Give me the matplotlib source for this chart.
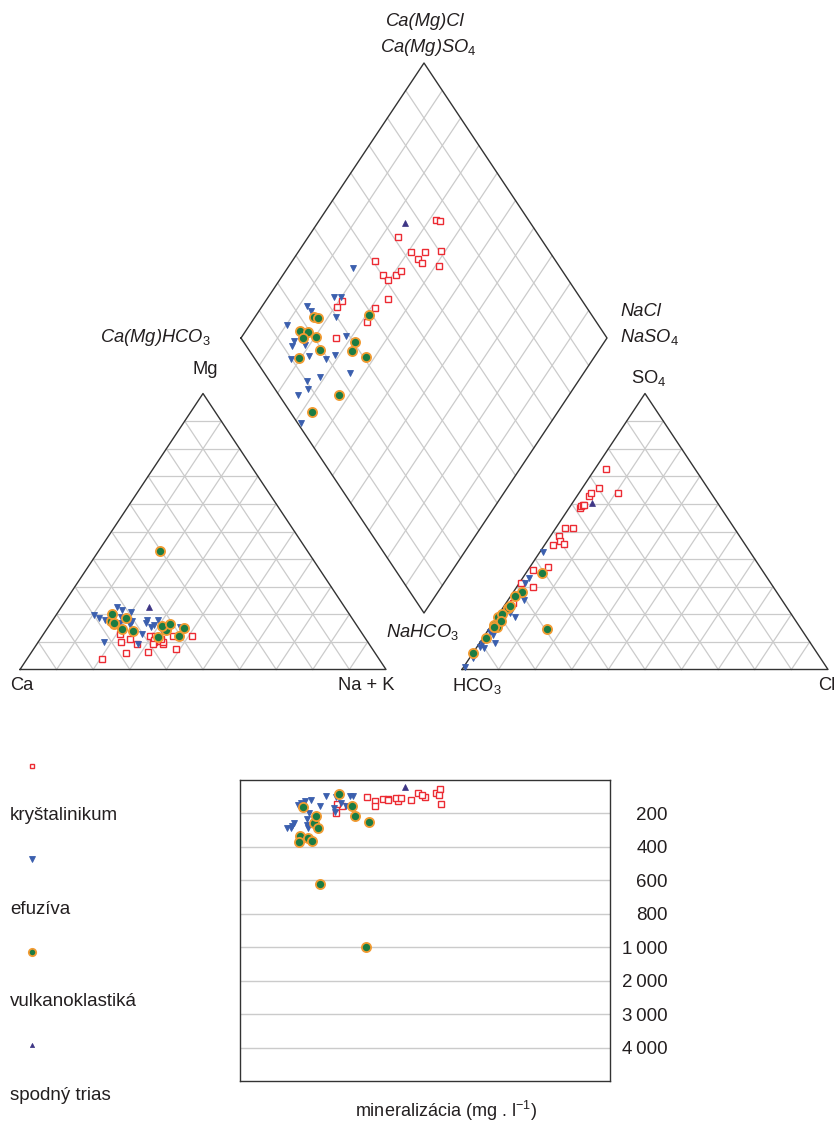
"""Piper diagram with mineralization panel."""
import matplotlib.pyplot as plt
import numpy as np

plt.rcParams['font.family'] = ['Liberation Sans', 'DejaVu Sans']
plt.rcParams['mathtext.fontset'] = 'custom'
plt.rcParams['mathtext.rm'] = 'Liberation Sans'
plt.rcParams['mathtext.it'] = 'Liberation Sans:italic'

# percent of meq: Na+K, Mg (rest Ca); SO4, Cl (rest HCO3); mineralization mg/l
kryst_na = [31.8, 33.0, 24.6, 30.9, 34.6, 38.9, 34.1, 35.7, 40.9, 22.5,
            27.3, 29.6, 30.8, 31.5, 33.0, 31.1, 31.6, 21.0, 20.5, 25.9]
kryst_mg = [6.3, 10.4, 11.0, 11.0, 9.2, 7.5, 10.0, 12.3, 12.3, 10.0,
            9.1, 12.0, 12.0, 10.0, 11.0, 10.8, 9.3, 12.9, 3.9, 5.9]
kryst_so4 = [64.0, 72.5, 58.4, 59.2, 62.8, 65.8, 59.7, 59.5, 63.8, 48.3,
             46.7, 45.4, 51.2, 51.3, 45.1, 37.2, 35.9, 30.0, 31.3, 24.2]
kryst_cl = [10.6, 3.0, 3.0, 3.0, 3.2, 4.6, 3.1, 3.6, 3.4, 2.3,
            3.5, 5.2, 2.5, 4.6, 2.2, 4.8, 1.5, 4.3, 0.5, 1.8]
kryst_tds = [80, 56, 124, 120, 104, 146, 80, 90, 90, 124,
             116, 116, 106, 110, 120, 154, 104, 156, 146, 200]

efuz_na = [18.0, 18.1, 19.8, 12.2, 14.2, 10.2, 22.1, 15.1, 15.5, 18.7, 21.8,
           17.3, 26.9, 28.7, 28.2, 36.2, 28.6, 25.8, 27.6, 26.0, 31.9]
efuz_mg = [9.9, 19.0, 20.8, 18.7, 18.0, 19.8, 16.0, 22.6, 20.0, 17.0, 17.5,
           21.4, 12.9, 16.0, 15.3, 15.3, 18.1, 17.8, 9.3, 17.0, 14.0]
efuz_so4 = [42.4, 31.3, 33.0, 21.7, 19.1, 12.6, 25.3, 9.6, 11.2, 15.7, 14.3,
            7.8, 17.4, 21.1, 27.0, 20.3, 13.5, 9.1, 8.3, 4.3, 0.8]
efuz_cl = [1.0, 1.6, 1.7, 2.0, 4.8, 2.2, 4.4, 4.3, 1.3, 0.6, 1.0,
           2.0, 2.0, 1.5, 2.0, 3.0, 1.0, 1.0, 0.9, 0.9, 0.3]
efuz_tds = [94, 166, 136, 270, 120, 290, 100, 260, 275, 124, 200,
            288, 94, 190, 156, 94, 156, 235, 290, 150, 136]

vulk_na = [16.1, 17.5, 14.9, 17.1, 16.9, 20.4, 23.7, 19.5, 31.8, 32.6,
           37.5, 30.9, 37.3, 32.7]
vulk_mg = [17.5, 16.6, 20.2, 17.0, 42.8, 14.7, 14.1, 18.7, 11.7, 14.4,
           12.1, 15.7, 15.1, 16.6]
vulk_so4 = [22.2, 23.1, 15.3, 19.1, 16.1, 20.0, 17.5, 11.4, 28.1, 26.6,
            14.6, 34.8, 15.5, 5.9]
vulk_cl = [1.6, 1.6, 2.0, 0.3, 0.8, 0.8, 2.0, 0.8, 2.3, 1.2,
           16.0, 4.5, 1.0, 0.0]
vulk_tds = [259, 286, 335, 349, 164, 216, 623, 369, 214, 156,
            1000, 253, 86, 365]

trias_na = [24.0]
trias_mg = [22.6]
trias_so4 = [60.4]
trias_cl = [5.3]
trias_tds = [44]

tds_levels = [0, 200, 400, 600, 800, 1000, 2000, 3000, 4000, 5000]
tds_ticks = [200, 400, 600, 800, 1000, 2000, 3000, 4000]
tds_labels = ["200", "400", "600", "800",
              "1\u2009000", "2\u2009000", "3\u2009000", "4\u2009000"]

groups = [
    ("kryštalinikum", kryst_na, kryst_mg, kryst_so4, kryst_cl, kryst_tds,
     dict(marker='s', ms=4.2, mfc='white', mec='#ec2b33', mew=1.0)),
    ("efuzíva", efuz_na, efuz_mg, efuz_so4, efuz_cl, efuz_tds,
     dict(marker='v', ms=4.8, mfc='#3b5fae', mec='#3b5fae', mew=0.6)),
    ("vulkanoklastiká", vulk_na, vulk_mg, vulk_so4, vulk_cl, vulk_tds,
     dict(marker='o', ms=6.6, mfc='#1b7c43', mec='#f29b32', mew=1.3)),
    ("spodný trias", trias_na, trias_mg, trias_so4, trias_cl, trias_tds,
     dict(marker='^', ms=3.8, mfc='#3d3585', mec='#3d3585', mew=0.5)),
]

# page geometry in pixels
SIDE, HT = 366, 276
CAT_X0, AN_X0, BASE_Y = 20, 462, 669.5
D_LX, D_LY, D_W, D_H = 241, 338, 183, 275

TXT = '#231f20'
GRID = '#cbcbcb'
EDGE = '#333333'


def tri_xy(x0, right, top):
    right = np.asarray(right, float) / 100
    top = np.asarray(top, float) / 100
    return x0 + SIDE * (right + top / 2), BASE_Y - HT * top


def dia_xy(na, an):
    n = np.asarray(na, float) / 100
    a = np.asarray(an, float) / 100
    return D_LX + D_W * (a + n), D_LY + D_H * (n - a)


fig = plt.figure(figsize=(8.35, 11.24), dpi=100)
ax = fig.add_axes([0, 0, 1, 1])
ax.set_xlim(0, 835)
ax.set_ylim(1124, 0)
ax.axis('off')

# triangle grids and outlines
for x0 in (CAT_X0, AN_X0):
    for f in np.arange(10, 100, 10):
        for p, q in [((0, f), (100 - f, f)), ((f, 0), (f, 100 - f)),
                     ((100 - f, 0), (0, 100 - f))]:
            xs, ys = tri_xy(x0, [p[0], q[0]], [p[1], q[1]])
            ax.plot(xs, ys, color=GRID, lw=0.9, zorder=1)
    xs, ys = tri_xy(x0, [0, 100, 0, 0], [0, 0, 100, 0])
    ax.plot(xs, ys, color=EDGE, lw=1.0, zorder=2)

# diamond grid and outline
for f in np.arange(10, 100, 10):
    xs, ys = dia_xy([0, 100], [f, f])
    ax.plot(xs, ys, color=GRID, lw=0.9, zorder=1)
    xs, ys = dia_xy([f, f], [0, 100])
    ax.plot(xs, ys, color=GRID, lw=0.9, zorder=1)
xs, ys = dia_xy([0, 100, 100, 0, 0], [0, 0, 100, 100, 0])
ax.plot(xs, ys, color=EDGE, lw=1.0, zorder=2)

# bottom panel
ax2 = fig.add_axes([240 / 835, 43 / 1124, 369.5 / 835, 301 / 1124])
ax2.set_yscale('function', functions=(
    lambda v: np.interp(v, tds_levels, np.arange(len(tds_levels))),
    lambda v: np.interp(v, np.arange(len(tds_levels)), tds_levels)))
ax2.set_ylim(tds_levels[-1], tds_levels[0])
ax2.set_xlim(-1 / D_W, 2 + 2.5 / D_W)
ax2.set_xticks([])
ax2.set_yticks(tds_ticks)
ax2.set_yticklabels(tds_labels)
ax2.yaxis.tick_right()
ax2.tick_params(axis='y', length=0, pad=42, labelsize=13.5, labelcolor=TXT)
for lab in ax2.get_yticklabels():
    lab.set_ha('right')
ax2.yaxis.grid(True, color=GRID, lw=1.0)
ax2.set_axisbelow(True)
for sp in ax2.spines.values():
    sp.set_color(EDGE)
    sp.set_linewidth(1.0)

for name, na, mg, so4, cl, tds, st in groups:
    an = np.add(so4, cl)
    ax.plot(*tri_xy(CAT_X0, na, mg), ls='none', zorder=3, **st)
    ax.plot(*tri_xy(AN_X0, cl, so4), ls='none', zorder=3, **st)
    ax.plot(*dia_xy(na, an), ls='none', zorder=3, **st)
    ax2.plot((np.asarray(na) + an) / 100, tds, ls='none', zorder=3,
             clip_on=False, **st)

# legend: key above its label
for i, (name, *_, st) in enumerate(groups):
    yk = 766 + 93 * i
    key = dict(st)
    key['ms'] = key['ms'] * 0.8
    ax.plot([32], [yk], ls='none', **key)
    ax.text(10, yk + 50, name, fontsize=13.5, color=TXT, va='center')

# corner labels
fs = 13.2
ax.text(205, 370, "Mg", fontsize=fs, color=TXT, ha='center', va='center')
ax.text(10, 686, "Ca", fontsize=fs, color=TXT, ha='left', va='center')
ax.text(394, 686, "Na + K", fontsize=fs, color=TXT, ha='right', va='center')
ax.text(452, 686, r"HCO$_3$", fontsize=fs, color=TXT, ha='left', va='center')
ax.text(818, 686, "Cl", fontsize=fs, color=TXT, ha='left', va='center')
ax.text(649, 378, r"SO$_4$", fontsize=fs, color=TXT, ha='center', va='center')
ax.text(425, 22, "Ca(Mg)Cl", fontsize=fs, color=TXT, style='italic',
        ha='center', va='center')
ax.text(428, 47, r"Ca(Mg)SO$_\mathit{4}$", fontsize=fs, color=TXT,
        style='italic', ha='center', va='center')
ax.text(155, 337, r"Ca(Mg)HCO$_\mathit{3}$", fontsize=fs, color=TXT,
        style='italic', ha='center', va='center')
ax.text(620, 312, "NaCl", fontsize=fs, color=TXT, style='italic',
        ha='left', va='center')
ax.text(620, 337, r"NaSO$_\mathit{4}$", fontsize=fs, color=TXT,
        style='italic', ha='left', va='center')
ax.text(423, 632, r"NaHCO$_\mathit{3}$", fontsize=fs, color=TXT,
        style='italic', ha='center', va='center')
ax.text(446, 1111, r"mineralizácia (mg . l$^{-1}$)", fontsize=13,
        color=TXT, ha='center', va='center')

plt.savefig("out.png", dpi=100, facecolor='white')
plt.close()
